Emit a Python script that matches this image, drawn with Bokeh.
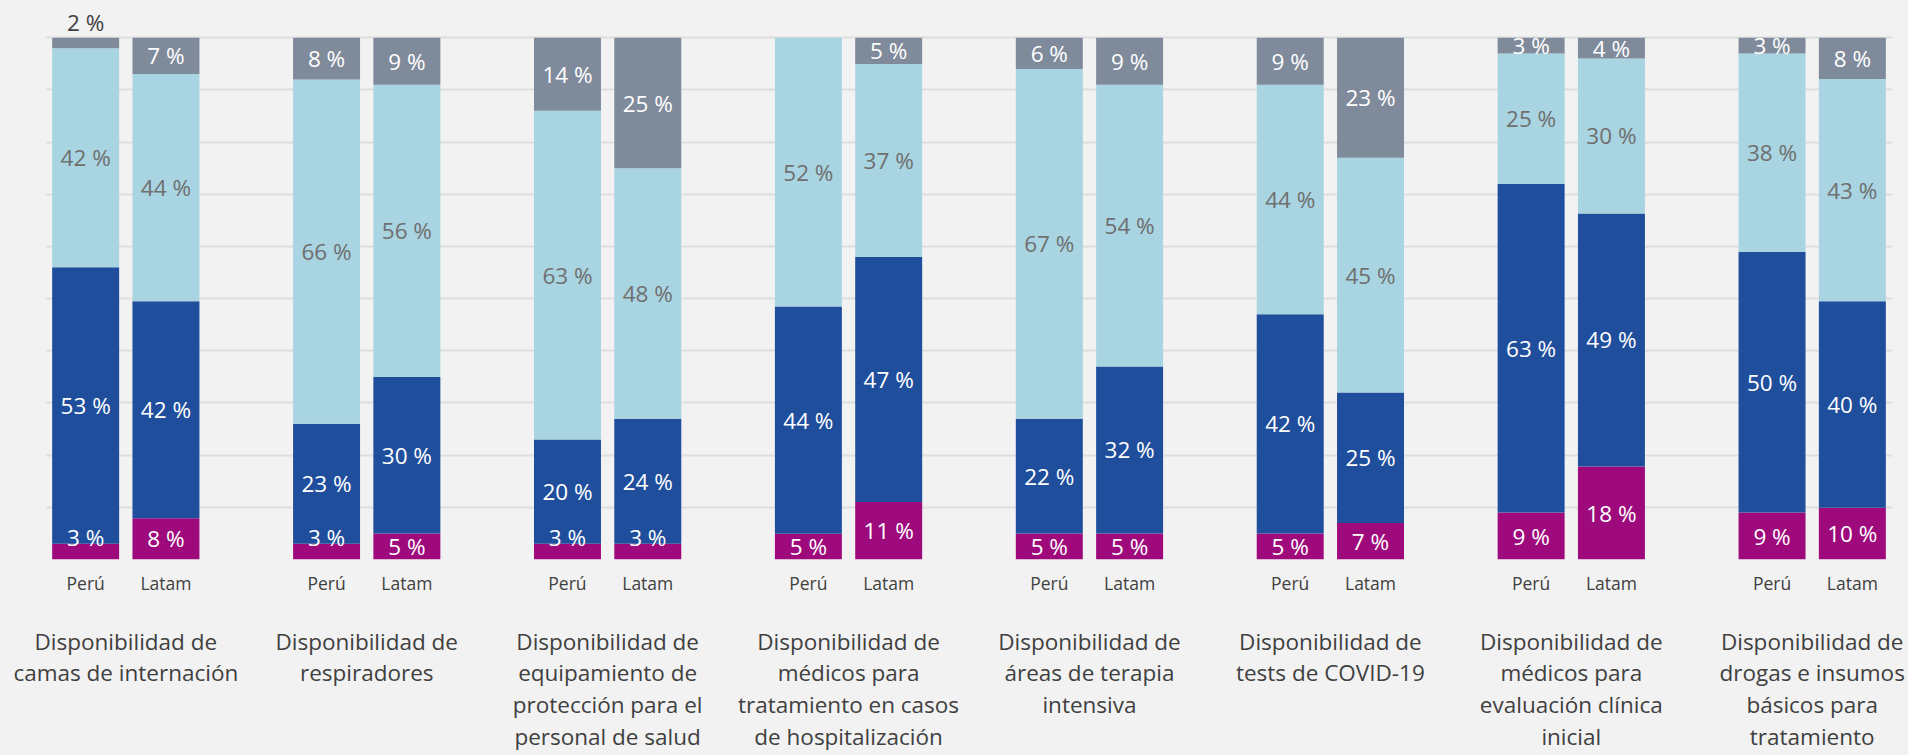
from bokeh.plotting import figure
from bokeh.models import ColumnDataSource, LabelSet, FixedTicker, Range1d, LinearAxis
from bokeh.core.properties import value
from bokeh.embed import file_html
from bokeh.resources import INLINE

# ---------------- data ----------------
groups = [
    "Disponibilidad de\ncamas de internación",
    "Disponibilidad de\nrespiradores",
    "Disponibilidad de\nequipamiento de\nprotección para el\npersonal de salud",
    "Disponibilidad de\nmédicos para\ntratamiento en casos\nde hospitalización",
    "Disponibilidad de\náreas de terapia\nintensiva",
    "Disponibilidad de\ntests de COVID-19",
    "Disponibilidad de\nmédicos para\nevaluación clínica\ninicial",
    "Disponibilidad de\ndrogas e insumos\nbásicos para\ntratamiento",
]
bar_names = ["Perú", "Latam"]

# segments from bottom to top
peru_magenta = [3, 3, 3, 5, 5, 5, 9, 9]
peru_dark = [53, 23, 20, 44, 22, 42, 63, 50]
peru_light = [42, 66, 63, 52, 67, 44, 25, 38]
peru_gray = [2, 8, 14, 0, 6, 9, 3, 3]

latam_magenta = [8, 5, 3, 11, 5, 7, 18, 10]
latam_dark = [42, 30, 24, 47, 32, 25, 49, 40]
latam_light = [44, 56, 48, 37, 54, 45, 30, 43]
latam_gray = [7, 9, 25, 5, 9, 23, 4, 8]

# ---------------- styles ----------------
COLORS = ["#9E0A7C", "#1F4E9C", "#A9D4E1", "#7F8A9B"]
LABEL_COLORS = ["#FFFFFF", "#FFFFFF", "#6F6F6F", "#FFFFFF"]
BG = "#F2F2F2"
FONT = "Open Sans"
DARK_TEXT = "#404040"

seg_keys = ["magenta", "dark", "light", "gray"]

# ---------------- build bar table ----------------
xs, tick_labels = [], {}
raw = {k: [] for k in seg_keys}
for i in range(len(groups)):
    for j, name in enumerate(bar_names):
        x = 6 * i + 1 + 2 * j
        xs.append(x)
        tick_labels[x] = name
        src = (peru_magenta, peru_dark, peru_light, peru_gray) if j == 0 else \
              (latam_magenta, latam_dark, latam_light, latam_gray)
        for k, arr in zip(seg_keys, src):
            raw[k].append(arr[i])

# 100 % stacked: each bar normalised to its own total
norm = {k: [] for k in seg_keys}
for b in range(len(xs)):
    tot = sum(raw[k][b] for k in seg_keys)
    for k in seg_keys:
        norm[k].append(raw[k][b] * 100.0 / tot)

bars = ColumnDataSource(dict(x=xs, **norm))

# value labels
lx, ly, lt, lc, loff = [], [], [], [], []
for b, x in enumerate(xs):
    cum = 0.0
    for s, k in enumerate(seg_keys):
        v = raw[k][b]
        h = norm[k][b]
        if v > 0:
            y = cum + h / 2
            col = LABEL_COLORS[s]
            off = 0
            if s == 0 and v <= 3:
                off = 14
            if s == 3 and v <= 2:
                y = 100
                off = 15
                col = DARK_TEXT
            lx.append(x); ly.append(y); lt.append(f"{v} %"); lc.append(col); loff.append(off)
        cum += h
labels_src = ColumnDataSource(dict(x=lx, y=ly, text=lt, color=lc, off=loff))

group_ticks = [6 * i + 2 for i in range(len(groups))]
group_labels = {t: g for t, g in zip(group_ticks, groups)}

# ---------------- figure ----------------
p = figure(width=1906, height=755, output_backend="svg", toolbar_location=None,
           x_range=Range1d(0, 46), y_range=Range1d(0, 106),
           min_border_left=45, min_border_right=14, min_border_top=6, min_border_bottom=195)
p.background_fill_color = BG
p.border_fill_color = BG
p.outline_line_color = None

p.vbar_stack(seg_keys, x="x", width=1.668, source=bars, fill_color=COLORS, line_color=None)

p.yaxis.visible = False
p.yaxis.ticker = FixedTicker(ticks=list(range(0, 101, 10)))
p.ygrid.grid_line_color = "#DEDEDE"
p.ygrid.grid_line_width = 2
p.xgrid.visible = False

ax = p.xaxis[0]
ax.ticker = FixedTicker(ticks=xs)
ax.major_label_overrides = tick_labels
ax.axis_line_color = None
ax.major_tick_line_color = None
ax.minor_tick_line_color = None
ax.major_tick_out = 0
ax.major_tick_in = 0
ax.major_label_standoff = 11
ax.major_label_text_font = FONT
ax.major_label_text_font_size = "17.5px"
ax.major_label_text_color = DARK_TEXT

gax = LinearAxis(ticker=FixedTicker(ticks=group_ticks), major_label_overrides=group_labels)
gax.axis_line_color = None
gax.major_tick_line_color = None
gax.minor_tick_line_color = None
gax.major_tick_out = 0
gax.major_tick_in = 0
gax.major_label_standoff = 28
gax.major_label_text_font = FONT
gax.major_label_text_font_size = "22.5px"
gax.major_label_text_color = DARK_TEXT
gax.major_label_text_line_height = 1.03
gax.major_label_text_align = "center"
p.add_layout(gax, "below")

p.add_layout(LabelSet(x="x", y="y", text="text", source=labels_src, y_offset="off",
                      text_color="color", text_font=value(FONT), text_font_size="22.5px",
                      text_align="center", text_baseline="middle"))

html = file_html(p, INLINE)
html = html.replace("<body>", '<body style="background-color:#F2F2F2;">')
open("out.html", "w").write(html)
